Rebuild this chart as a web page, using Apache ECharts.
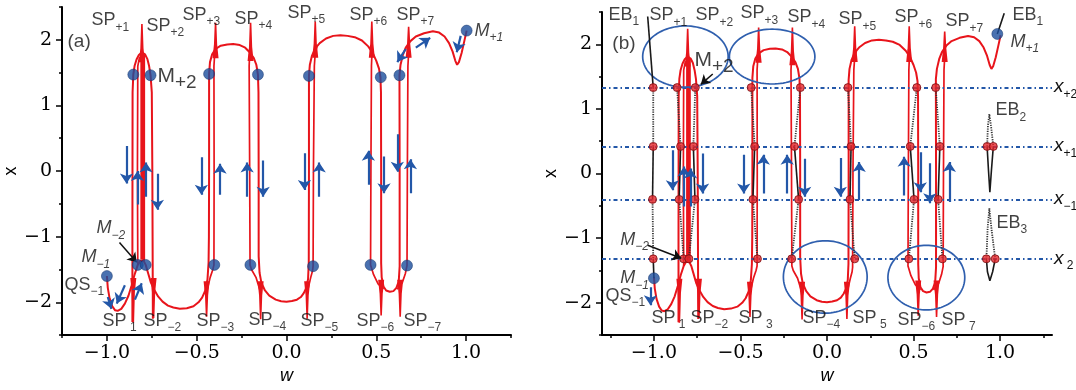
<!DOCTYPE html>
<html><head><meta charset="utf-8">
<script src="https://cdn.jsdelivr.net/npm/echarts@6/dist/echarts.min.js"></script>
<style>html,body{margin:0;padding:0;background:#fff}#c{width:1076px;height:390px}</style>
</head><body><div id="c"></div>
<script>
// ================= DATA =================
const xTickValues = [-1.0, -0.5, 0.0, 0.5, 1.0];
const xMinorTicks = [-1.25, -0.75, -0.25, 0.25, 0.75, 1.25];
const yTickValues = [-2, -1, 0, 1, 2];
const yMinorTicks = [-2.5, -1.5, -0.5, 0.5, 1.5, 2.5];

// main red serpentine (w, x)
const outerPath = [
[-1.000,-1.60],[-0.995,-1.78],[-0.985,-1.94],[-0.970,-2.06],[-0.955,-2.12],[-0.940,-2.13],[-0.920,-2.10],[-0.900,-2.02],[-0.880,-1.90],[-0.862,-1.74],[-0.845,-1.57],[-0.828,-1.43],[-0.815,-1.37],[-0.806,-1.35],[-0.795,-1.37],[-0.784,-1.43],[-0.770,-1.56],[-0.755,-1.70],[-0.738,-1.80],[-0.715,-1.91],[-0.690,-1.99],[-0.660,-2.05],[-0.630,-2.08],[-0.594,-2.10],[-0.555,-2.09],[-0.518,-2.06],[-0.490,-2.00],[-0.470,-1.93],[-0.452,-1.82],[-0.440,-1.65],[-0.434,-1.40],[-0.432,-1.00],[-0.431,0.00],[-0.431,1.20],[-0.431,1.48],[-0.426,1.66],[-0.414,1.78],[-0.395,1.86],[-0.366,1.91],[-0.330,1.93],[-0.297,1.935],[-0.260,1.92],[-0.230,1.88],[-0.205,1.81],[-0.182,1.72],[-0.168,1.62],[-0.159,1.47],[-0.156,1.20],[-0.155,0.00],[-0.155,-1.30],[-0.150,-1.55],[-0.140,-1.70],[-0.120,-1.82],[-0.096,-1.90],[-0.060,-1.96],[-0.030,-1.985],[0.000,-1.99],[0.030,-1.98],[0.058,-1.96],[0.080,-1.92],[0.096,-1.86],[0.110,-1.78],[0.120,-1.65],[0.124,-1.40],[0.125,0.00],[0.125,1.45],[0.130,1.62],[0.142,1.76],[0.160,1.87],[0.185,1.95],[0.220,2.02],[0.260,2.06],[0.300,2.07],[0.340,2.06],[0.380,2.04],[0.420,1.99],[0.455,1.90],[0.480,1.80],[0.500,1.68],[0.515,1.56],[0.523,1.43],[0.526,1.20],[0.527,0.00],[0.527,-1.40],[0.530,-1.62],[0.540,-1.76],[0.555,-1.82],[0.575,-1.84],[0.595,-1.83],[0.612,-1.78],[0.625,-1.68],[0.630,-1.45],[0.630,0.00],[0.629,1.46],[0.635,1.62],[0.648,1.77],[0.664,1.88],[0.690,1.98],[0.720,2.05],[0.766,2.10],[0.815,2.13],[0.850,2.11],[0.880,2.05],[0.905,1.95],[0.925,1.82],[0.940,1.68],[0.950,1.62],[0.960,1.66],[0.975,1.80],[0.990,1.98],[1.003,2.14]
];
const topArc1 = [[-0.858,-2.30],[-0.858,-1.00],[-0.857,1.20],[-0.853,1.47],[-0.846,1.60],[-0.835,1.70],[-0.822,1.77],[-0.805,1.81],[-0.788,1.78],[-0.775,1.71],[-0.765,1.60],[-0.757,1.46],[-0.750,1.20],[-0.747,0.00],[-0.745,-1.50],[-0.744,-2.25]];
const inner1a = [[-0.828,-1.43],[-0.830,0.00],[-0.828,1.60],[-0.818,1.74]];
const inner1b = [[-0.806,-1.35],[-0.806,1.80]];
const inner1c = [[-0.795,-1.37],[-0.795,1.78]];
const inner2L = [[-0.445,-1.85],[-0.425,-1.62],[-0.410,-1.50],[-0.404,-1.43],[-0.403,0.00],[-0.404,1.60],[-0.400,1.78],[-0.392,1.86]];
const inner2R = [[-0.144,-1.85],[-0.170,-1.62],[-0.195,-1.50],[-0.203,-1.43],[-0.205,0.00],[-0.208,1.60],[-0.205,1.78],[-0.196,1.84]];
const inner3L = [[0.115,-1.85],[0.135,-1.62],[0.145,-1.52],[0.148,-1.45],[0.150,0.00],[0.155,1.60],[0.160,1.80],[0.170,1.90]];
const inner3R = [[0.540,-1.80],[0.510,-1.72],[0.485,-1.58],[0.468,-1.43],[0.470,0.00],[0.473,1.60],[0.476,1.80],[0.470,1.92]];
const inner4R = [[0.615,-1.80],[0.645,-1.70],[0.662,-1.56],[0.671,-1.44],[0.673,0.00],[0.676,1.60],[0.680,1.80],[0.672,1.88]];

// spikes: [w, base, tip]
const spikesTop = [[-0.805,1.78,2.24],[-0.395,1.84,2.26],[-0.200,1.80,2.26],[0.160,1.85,2.28],[0.475,1.85,2.28],[0.680,1.85,2.20]];
const spikesBottom = [[-0.853,-1.75,-2.31],[-0.740,-1.75,-2.24],[-0.445,-1.80,-2.22],[-0.144,-1.80,-2.26],[0.115,-1.80,-2.25],[0.527,-1.78,-2.20],[0.633,-1.78,-2.22]];

// blue dots
const blueDotsA = [[-0.853,1.47],[-0.757,1.46],[-0.431,1.48],[-0.159,1.47],[0.125,1.45],[0.525,1.43],[0.629,1.46],
  [-0.828,-1.43],[-0.784,-1.43],[-0.402,-1.43],[-0.201,-1.43],[0.148,-1.45],[0.468,-1.43],[0.671,-1.44],
  [-1.000,-1.60],[1.003,2.14]];
const blueDotsB = [[-1.000,-1.62],[0.984,2.16]];

// blue arrows [w1,x1,w2,x2] tail -> head
const arrowsA = [[-0.891,0.38,-0.891,-0.19],[-0.830,-0.51,-0.830,0.00],[-0.782,-0.39,-0.782,0.13],[-0.719,-0.04,-0.719,-0.59],
  [-0.474,0.21,-0.474,-0.36],[-0.370,-0.36,-0.370,0.11],[-0.219,-0.39,-0.219,0.13],[-0.130,0.16,-0.130,-0.39],
  [0.100,0.27,0.100,-0.29],[0.182,-0.39,0.182,0.13],[0.456,-0.21,0.456,0.31],[0.543,0.22,0.543,-0.34],
  [0.617,0.56,0.617,-0.01],[0.690,-0.34,0.690,0.18],
  [-0.995,-1.92,-0.975,-2.10],[-0.900,-1.74,-0.945,-2.02],[-0.844,-1.96,-0.806,-1.71],
  [0.664,1.86,0.617,1.66],[0.720,1.88,0.800,2.03],[0.970,2.06,0.948,1.81]];
const arrowsB = [[-0.893,0.36,-0.893,-0.26],[-0.826,-0.51,-0.826,0.11],[-0.788,-0.51,-0.788,0.08],[-0.719,0.31,-0.719,-0.31],
  [-0.481,0.29,-0.481,-0.31],[-0.368,-0.31,-0.368,0.29],[-0.230,-0.31,-0.230,0.29],[-0.129,0.23,-0.129,-0.36],
  [0.077,0.24,0.077,-0.36],[0.186,-0.41,0.186,0.18],[0.446,-0.34,0.446,0.26],[0.539,0.33,0.539,-0.29],
  [0.594,0.16,0.594,-0.46],[0.707,-0.44,0.707,0.18],[-1.020,-1.76,-1.020,-2.04]];
const blackArrowsA = [[-0.930,-1.09,-0.834,-1.39]];
const blackArrowsB = [[-1.036,-1.11,-0.842,-1.31],[-0.660,1.54,-0.729,1.38]];

// panel (b): levels and red dots
const levelValues = [1.33, 0.42, -0.40, -1.32];
const levelNames = ['+2', '+1', '−1', ' 2'];
const rowPlus2 = [-1.004,-0.866,-0.761,-0.438,-0.154,0.121,0.519,0.628];
const rowPlus1 = [-1.004,-0.846,-0.772,-0.418,-0.188,0.139,0.481,0.652,0.925,0.961];
const rowMinus1 = [-1.008,-0.854,-0.763,-0.428,-0.164,0.133,0.503,0.642];
const rowMinus2 = [-1.004,-0.828,-0.798,-0.402,-0.204,0.160,0.473,0.667,0.921,0.972];

const ebSolid = [
 [[-1.036,2.43],[-1.004,1.33]],[[-1.004,0.42],[-1.008,-0.40]],[[-1.004,-1.32],[-1.000,-1.62]],
 [[-0.846,0.42],[-0.854,-0.40]],[[-0.772,0.42],[-0.763,-0.40]],[[-0.418,0.42],[-0.428,-0.40]],
 [[-0.188,0.42],[-0.164,-0.40]],[[0.139,0.42],[0.133,-0.40]],[[0.481,0.42],[0.503,-0.40]],[[0.652,0.42],[0.642,-0.40]],
 [[0.925,0.42],[0.933,0.05],[0.941,-0.29],[0.950,0.05],[0.961,0.42]],
 [[0.921,-1.32],[0.927,-1.52],[0.941,-1.66],[0.957,-1.52],[0.972,-1.32]],
 [[0.984,2.16],[1.024,2.48]]
];
const ebDotted = [
 [[-1.004,1.33],[-1.004,0.42]],[[-1.008,-0.40],[-1.004,-1.32]],
 [[-0.866,1.33],[-0.846,0.42]],[[-0.854,-0.40],[-0.828,-1.32]],
 [[-0.761,1.33],[-0.772,0.42]],[[-0.763,-0.40],[-0.798,-1.32]],
 [[-0.438,1.33],[-0.418,0.42]],[[-0.428,-0.40],[-0.402,-1.32]],
 [[-0.154,1.33],[-0.188,0.42]],[[-0.164,-0.40],[-0.204,-1.32]],
 [[0.121,1.33],[0.139,0.42]],[[0.133,-0.40],[0.160,-1.32]],
 [[0.519,1.33],[0.481,0.42]],[[0.503,-0.40],[0.473,-1.32]],
 [[0.628,1.33],[0.652,0.42]],[[0.642,-0.40],[0.667,-1.32]],
 [[0.925,0.42],[0.930,0.75],[0.938,0.92],[0.947,0.75],[0.961,0.42]],
 [[0.921,-1.32],[0.928,-0.85],[0.938,-0.54],[0.950,-0.85],[0.972,-1.32]]
];
// ellipses [w, x, half-width in w, half-height in x]
const ellipsesB = [[-0.818,1.81,0.247,0.474],[-0.317,1.81,0.247,0.424],[-0.010,-1.60,0.242,0.56],[0.574,-1.61,0.222,0.50]];

// text annotations [w, x, text]
const labelsA = [
 [-1.089,2.29,'{m|SP}{s|+1}'],[-0.782,2.20,'{m|SP}{s|+2}'],[-0.582,2.37,'{m|SP}{s|+3}'],[-0.292,2.31,'{m|SP}{s|+4}'],
 [0.003,2.40,'{m|SP}{s|+5}'],[0.348,2.37,'{m|SP}{s|+6}'],[0.610,2.37,'{m|SP}{s|+7}'],
 [1.044,2.13,'{mi|M}{si|+1}'],[-0.721,1.44,'{mb|M}{sb|+2}'],[-1.222,1.96,'{p|(a)}'],
 [-1.061,-0.88,'{mi|M}{si|−2}'],[-1.144,-1.32,'{mi|M}{si|−1}'],[-1.239,-1.74,'{m|QS}{s|−1}'],
 [-1.027,-2.29,'{m|SP}{s| 1}'],[-0.799,-2.29,'{m|SP}{s|−2}'],[-0.504,-2.29,'{m|SP}{s|−3}'],[-0.214,-2.28,'{m|SP}{s|−4}'],
 [0.075,-2.29,'{m|SP}{s|−5}'],[0.387,-2.29,'{m|SP}{s|−6}'],[0.649,-2.29,'{m|SP}{s|−7}']
];
const labelsB = [
 [-1.266,2.45,'{m|EB}{s|1}'],[-1.029,2.44,'{m|SP}{s|+1}'],[-0.763,2.44,'{m|SP}{s|+2}'],[-0.503,2.47,'{m|SP}{s|+3}'],
 [-0.231,2.41,'{m|SP}{s|+4}'],[0.064,2.38,'{m|SP}{s|+5}'],[0.387,2.41,'{m|SP}{s|+6}'],[0.682,2.35,'{m|SP}{s|+7}'],
 [1.069,2.45,'{m|EB}{s|1}'],[1.058,2.03,'{mi|M}{si|+1}'],[-1.243,2.00,'{p|(b)}'],[-0.769,1.75,'{mb|M}{sb|+2}'],
 [0.971,0.97,'{m|EB}{s|2}'],[0.977,-0.77,'{m|EB}{s|3}'],
 [-1.197,-1.03,'{mi|M}{si|−2}'],[-1.197,-1.63,'{mi|M}{si|−1}'],[-1.283,-1.90,'{m|QS}{s|−1}'],
 [-1.017,-2.24,'{m|SP}{s| 1}'],[-0.792,-2.24,'{m|SP}{s|−2}'],[-0.514,-2.24,'{m|SP}{s| 3}'],[-0.145,-2.24,'{m|SP}{s|−4}'],
 [0.145,-2.24,'{m|SP}{s| 5}'],[0.405,-2.27,'{m|SP}{s|−6}'],[0.659,-2.27,'{m|SP}{s| 7}']
];

// ================= STYLE / BUILD =================
const RED = '#e8141b', BLUE = '#2357a8', DOT = '#1b4d9c';
const SANS = 'Liberation Sans', SERIF = 'DejaVu Serif';
const rich = {
  m:  {fontFamily:SANS, fontSize:18, color:'#111', verticalAlign:'top', lineHeight:19},
  s:  {fontFamily:SANS, fontSize:12, color:'#111', verticalAlign:'top', lineHeight:12, padding:[10,0,0,0]},
  mi: {fontFamily:SANS, fontSize:18, fontStyle:'italic', color:'#111', verticalAlign:'top', lineHeight:19},
  si: {fontFamily:SANS, fontSize:12, fontStyle:'italic', color:'#111', verticalAlign:'top', lineHeight:12, padding:[10,0,0,0]},
  mb: {fontFamily:SANS, fontSize:21, color:'#111', verticalAlign:'top', lineHeight:22},
  sb: {fontFamily:SANS, fontSize:19, color:'#111', verticalAlign:'top', lineHeight:19, padding:[8,0,0,0]},
  p:  {fontFamily:SANS, fontSize:19, color:'#111', verticalAlign:'top', lineHeight:20},
  xi: {fontFamily:SANS, fontSize:19, fontStyle:'italic', color:'#111', verticalAlign:'top', lineHeight:20},
  xs: {fontFamily:SANS, fontSize:12, color:'#111', verticalAlign:'top', lineHeight:12, padding:[11,0,0,0]}
};
const fmtX = v => (v < 0 ? '−' : '') + Math.abs(v).toFixed(1);
const fmtY = v => (v < 0 ? '−' : '') + Math.abs(v);

const grids = [
  {left:62, top:7, width:449, height:334},
  {left:602, top:12, width:450, height:333}
];
const xRanges = [[-1.25,1.25],[-1.3,1.3]];
const xAxes = [], yAxes = [];
[0,1].forEach(g => {
  xAxes.push({gridIndex:g, type:'value', min:xRanges[g][0], max:xRanges[g][1],
    axisLine:{show:true, onZero:false, lineStyle:{color:'#000', width:2}},
    axisTick:{show:true, customValues:xTickValues, length:6, lineStyle:{color:'#000', width:1.5}},
    axisLabel:{customValues:xTickValues, formatter:fmtX, fontFamily:SERIF, fontSize:19, color:'#000', margin:8},
    splitLine:{show:false}, name:'w', nameLocation:'middle', nameGap:30,
    nameTextStyle:{fontFamily:SANS, fontStyle:'italic', fontSize:18, color:'#000'}});
  xAxes.push({gridIndex:g, type:'value', min:xRanges[g][0], max:xRanges[g][1], position:'bottom',
    axisLine:{show:false, onZero:false}, axisTick:{show:true, customValues:xMinorTicks, length:3, lineStyle:{color:'#000', width:1.5}},
    axisLabel:{show:false}, splitLine:{show:false}});
  yAxes.push({gridIndex:g, type:'value', min:-2.5, max:2.5,
    axisLine:{show:true, onZero:false, lineStyle:{color:'#000', width:2}},
    axisTick:{show:true, customValues:yTickValues, length:6, lineStyle:{color:'#000', width:1.5}},
    axisLabel:{customValues:yTickValues, formatter:fmtY, fontFamily:SERIF, fontSize:19, color:'#000', margin:10},
    splitLine:{show:false}, name:'x', nameLocation:'middle', nameGap:40,
    nameTextStyle:{fontFamily:SANS, fontSize:18, color:'#000'}});
  yAxes.push({gridIndex:g, type:'value', min:-2.5, max:2.5, position:'left',
    axisLine:{show:false, onZero:false}, axisTick:{show:true, customValues:yMinorTicks, length:3, lineStyle:{color:'#000', width:1.5}},
    axisLabel:{show:false}, splitLine:{show:false}});
});

const redCurves = [
  {d:outerPath, w:2}, {d:topArc1, w:2}, {d:inner1a, w:1.7}, {d:inner1b, w:2.8}, {d:inner1c, w:2.8},
  {d:inner2L, w:1.7}, {d:inner2R, w:1.7}, {d:inner3L, w:1.7}, {d:inner3R, w:1.7}, {d:inner4R, w:1.7}
];

function spikeRender(params, api) {
  const w = api.value(0), b = api.value(1), t = api.value(2);
  const pb = api.coord([w, b]), pt = api.coord([w, t]);
  const dir = pt[1] < pb[1] ? -1 : 1;
  const pts = [[pb[0]-3, pb[1]-dir*8],[pb[0]+3, pb[1]-dir*8],[pb[0]+1.6, pb[1]+dir*6],
               [pt[0]+0.8, pt[1]],[pt[0]-0.8, pt[1]],[pb[0]-1.6, pb[1]+dir*6]];
  return {type:'polygon', shape:{points:pts}, style:{fill:RED}};
}
function ellipseRender(params, api) {
  const c = api.coord([api.value(0), api.value(1)]);
  const s = api.size([api.value(2), api.value(3)]);
  const pts = [];
  for (let i = 0; i < 96; i++) { const a = i/96*Math.PI*2; pts.push([c[0]+s[0]*Math.cos(a), c[1]+s[1]*Math.sin(a)]); }
  return {type:'polygon', shape:{points:pts}, style:{fill:'none', stroke:'#2f5fae', lineWidth:1.7}};
}

const series = [];
[0,1].forEach(g => {
  const xi = g*2, yi = g*2;
  const base = {xAxisIndex:xi, yAxisIndex:yi, silent:true, animation:false};
  if (g === 1) {
    series.push(Object.assign({type:'line', data:[], markLine:{symbol:'none', silent:true, animation:false,
      lineStyle:{color:BLUE, width:2, type:[4,3,1.5,3]},
      label:{show:true, position:'end', distance:2, formatter:p => '{xi|x}{xs|' + levelNames[levelValues.indexOf(p.value)] + '}', rich:rich},
      data: levelValues.map(v => ({yAxis:v}))}}, base));
    series.push(Object.assign({type:'custom', renderItem:ellipseRender, data:ellipsesB, clip:false, z:5}, base));
  }
  redCurves.forEach(c => series.push(Object.assign({type:'line', data:c.d, showSymbol:false, symbol:'none',
    lineStyle:{color:RED, width:c.w}, z:3}, base)));
  series.push(Object.assign({type:'custom', renderItem:spikeRender, data:spikesTop.concat(spikesBottom), z:3, clip:false}, base));
  if (g === 1) {
    ebSolid.forEach(d => series.push(Object.assign({type:'line', data:d, showSymbol:false, symbol:'none',
      lineStyle:{color:'#1a1a1a', width:1.6}, z:6}, base)));
    ebDotted.forEach(d => series.push(Object.assign({type:'line', data:d, showSymbol:false, symbol:'none',
      lineStyle:{color:'#333', width:1.8, type:[1.2,1.2]}, z:6}, base)));
    const rows = [rowPlus2, rowPlus1, rowMinus1, rowMinus2];
    const redDots = [];
    rows.forEach((r, i) => r.forEach(w => redDots.push([w, levelValues[i]])));
    series.push(Object.assign({type:'scatter', data:redDots, symbolSize:8,
      itemStyle:{color:'#e5262b', borderColor:'#7a0f12', borderWidth:1}, z:8}, base));
  }
  const arrows = g === 0 ? arrowsA : arrowsB;
  series.push(Object.assign({type:'lines', coordinateSystem:'cartesian2d', symbol:['none','arrow'], symbolSize:[7,10],
    lineStyle:{color:BLUE, width:2.2, opacity:1, curveness:0},
    data: arrows.map(a => ({coords:[[a[0],a[1]],[a[2],a[3]]]})), z:9}, base));
  const barrows = g === 0 ? blackArrowsA : blackArrowsB;
  series.push(Object.assign({type:'lines', coordinateSystem:'cartesian2d', symbol:['none','arrow'], symbolSize:[6,9],
    lineStyle:{color:'#111', width:1.5, opacity:1},
    data: barrows.map(a => ({coords:[[a[0],a[1]],[a[2],a[3]]]})), z:9}, base));
  series.push(Object.assign({type:'scatter', data: g === 0 ? blueDotsA : blueDotsB, symbolSize:11,
    itemStyle:{color:DOT, borderColor:'#0e2f66', borderWidth:0.6}, z:10}, base));
  const labs = g === 0 ? labelsA : labelsB;
  series.push(Object.assign({type:'scatter', data: labs.map(l => ({value:[l[0], l[1]], name:l[2]})),
    symbolSize:1, itemStyle:{color:'rgba(0,0,0,0)'}, clip:false, z:11,
    label:{show:true, position:'right', distance:0, formatter:p => p.name, rich:rich}}, base));
});

const chart = echarts.init(document.getElementById('c'), null, {renderer:'canvas'});
chart.setOption({animation:false, backgroundColor:'#fff', grid:grids, xAxis:xAxes, yAxis:yAxes, series:series});
</script></body></html>
